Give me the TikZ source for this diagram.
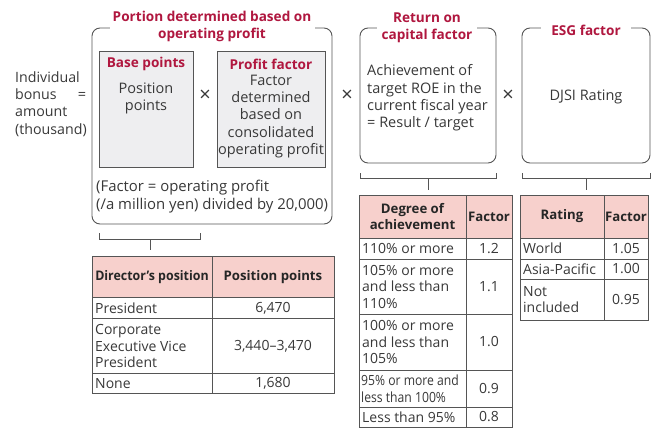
\documentclass[tikz,border=0pt]{standalone}
\usepackage{fontspec}
\usepackage{graphicx}
\setmainfont{Open Sans}
\definecolor{ttl}{HTML}{B0173F}
\definecolor{hdr}{HTML}{F7D0CC}
\definecolor{gfill}{HTML}{EEEEF0}
\definecolor{txt}{HTML}{383838}
\definecolor{ln}{HTML}{555555}
\begin{document}
\begin{tikzpicture}[x=1pt,y=-1pt,
  body/.style={font=\fontsize{14.5}{17.3}\selectfont, text=txt, inner sep=0pt, align=center},
  bodyl/.style={body, align=left, anchor=west},
  ttlst/.style={font=\fontsize{13.6}{17}\selectfont\bfseries, text=ttl, inner sep=0pt, align=center},
  ttlgap/.style={ttlst, fill=white, inner ysep=2pt},
  rbox/.style={draw=ln, line width=0.9pt, rounded corners=8pt},
  gbox/.style={draw=ln, line width=0.9pt, fill=gfill},
  tline/.style={draw=ln, line width=0.8pt},
  tab/.style={font=\fontsize{14}{16.5}\selectfont, text=txt, inner sep=0pt, align=center},
  tabl/.style={tab, align=left, anchor=west},
  tabh/.style={tab, font=\fontsize{13.2}{16.5}\selectfont\bfseries, text=black!85},
  brk/.style={draw=ln, line width=0.8pt},
  tms/.style={font=\fontsize{20}{20}\selectfont, text=txt, inner sep=0pt}
]
\useasboundingbox (0,0) rectangle (654,428);

% ---- left label
\node[bodyl, font=\fontsize{14.2}{17.3}\selectfont] (lbl) at (15,104) {Individual\\bonus\\amount\\(thousand)};
\node[body] (eq) at (82,96) {=};

% ---- portion box
\draw[rbox] (92,28) rectangle (332,224);
\node[ttlgap, minimum width=205pt] (pt) at (212,26.5) {Portion determined based on\\operating profit};
\node[gbox, minimum width=94pt, minimum height=116pt, anchor=north west] (base) at (99,51) {};
\node[gbox, minimum width=108pt, minimum height=116pt, anchor=north west] (prof) at (217,51) {};
\node[ttlst] (bt) at (146,64) {Base points};
\node[body] (bx) at (146,98.5) {Position\\points};
\node[ttlst] (ptt) at (271,64) {Profit factor};
\node[body] (px) at (271,116.5) {Factor\\determined\\based on\\consolidated\\operating profit};
\node[tms] (t1) at (205,96) {×};
\node[bodyl, font=\fontsize{14.9}{17.3}\selectfont] (fx) at (96,196.5) {(Factor = operating profit\\(/a million yen) divided by 20,000)};

% ---- ROE box
\draw[rbox] (360,28) rectangle (496,163);
\node[ttlgap, minimum width=100pt] (rt) at (427,27.5) {Return on\\capital factor};
\node[bodyl] (rx) at (367,98) {Achievement of\\target ROE in the\\current fiscal year\\= Result / target};
\node[tms] (t2) at (347,96) {×};

% ---- ESG box
\draw[rbox] (522,28) rectangle (650,163);
\node[ttlgap, minimum width=90pt] (et) at (586,30) {ESG factor};
\node[body] (ex) at (586,97) {DJSI Rating};
\node[tms] (t3) at (508,96) {×};

% ---- brackets
\coordinate (b1a) at (99,233); \coordinate (b1b) at (200,233);
\coordinate (b1m) at (150,239); \coordinate (b1e) at (150,250);
\draw[brk] (b1a) -- (99,239) -- (200,239) -- (b1b);
\draw[brk] (b1m) -- (b1e);
\coordinate (b2a) at (360,173); \coordinate (b2b) at (496,173);
\coordinate (b2m) at (428,178); \coordinate (b2e) at (428,190);
\draw[brk] (b2a) -- (360,178) -- (496,178) -- (b2b);
\draw[brk] (b2m) -- (b2e);
\coordinate (b3a) at (522,173); \coordinate (b3b) at (650,173);
\coordinate (b3m) at (586,178); \coordinate (b3e) at (586,190);
\draw[brk] (b3a) -- (522,178) -- (650,178) -- (b3b);
\draw[brk] (b3m) -- (b3e);

% ---- table 1
\fill[hdr] (92,256) rectangle (334,297);
\draw[tline] (92,256) rectangle (334,393);
\foreach \y in {297,318,373} \draw[tline] (92,\y) -- (334,\y);
\draw[tline] (212,256) -- (212,393);
\node[tabh] (h11) at (152,277) {\scalebox{0.94}[1]{Director’s position}};
\node[tabh] (h12) at (273,277) {Position points};
\node[tabl] (c11) at (95,308) {President};
\node[tab] (c12) at (273,308) {6,470};
\node[tabl] (c21) at (95,346) {Corporate\\Executive Vice\\President};
\node[tab] (c22) at (273,346) {3,440–3,470};
\node[tabl] (c31) at (95,383.5) {None};
\node[tab] (c32) at (273,383.5) {1,680};

% ---- table 2
\fill[hdr] (359,195) rectangle (512,238);
\draw[tline] (359,195) rectangle (512,427);
\foreach \y in {238,259,314,370,407} \draw[tline] (359,\y) -- (512,\y);
\draw[tline] (466,195) -- (466,427);
\node[tabh] (h21) at (412.5,216.5) {Degree of\\achievement};
\node[tabh] (h22) at (489,216.5) {Factor};
\node[tabl] (d11) at (362,248.5) {110\% or more};
\node[tab] (d12) at (489,248.5) {1.2};
\node[tabl] (d21) at (362,286.5) {105\% or more\\and less than\\110\%};
\node[tab] (d22) at (489,286.5) {1.1};
\node[tabl] (d31) at (362,342) {100\% or more\\and less than\\105\%};
\node[tab] (d32) at (489,342) {1.0};
\node[tabl] (d41) at (361,380) {\scalebox{0.87}[1]{95\% or more and}};
\node[tabl] (d43) at (361,397) {\scalebox{0.87}[1]{less than 100\%}};
\node[tab] (d42) at (489,388.5) {0.9};
\node[tabl] (d51) at (362,417) {Less than 95\%};
\node[tab] (d52) at (489,417) {0.8};

% ---- table 3
\fill[hdr] (520,195) rectangle (648,238);
\draw[tline] (520,195) rectangle (648,320);
\foreach \y in {238,259,279} \draw[tline] (520,\y) -- (648,\y);
\draw[tline] (604,195) -- (604,320);
\node[tabh] (h31) at (562,216.5) {Rating};
\node[tabh] (h32) at (626,216.5) {Factor};
\node[tabl] (e11) at (523,248.5) {World};
\node[tab] (e12) at (626,248.5) {1.05};
\node[tabl] (e21) at (523,269) {Asia-Pacific};
\node[tab] (e22) at (626,269) {1.00};
\node[tabl] (e31) at (523,299.5) {Not\\included};
\node[tab] (e32) at (626,299.5) {0.95};
\end{tikzpicture}
\end{document}
